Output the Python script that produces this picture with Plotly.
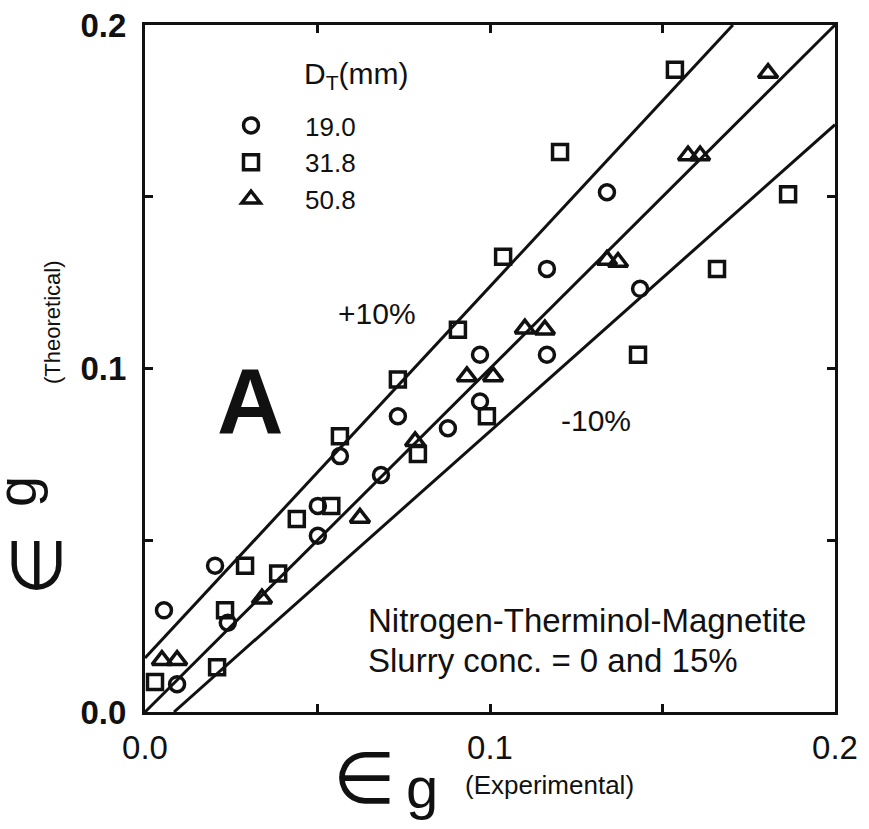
import plotly.graph_objects as go

# Measured gas holdup, experimental (x) vs theoretical (y), by column diameter
circle_x = [0.0055, 0.0203, 0.0240, 0.0093, 0.0565, 0.0684, 0.0501, 0.0501,
            0.0733, 0.0971, 0.0971, 0.0878, 0.1165, 0.1165, 0.1435, 0.1339]
circle_y = [0.0296, 0.0426, 0.0260, 0.0081, 0.0745, 0.0690, 0.0600, 0.0513,
            0.0861, 0.1040, 0.0904, 0.0826, 0.1290, 0.1040, 0.1232, 0.1513]

square_x = [0.0029, 0.0209, 0.0232, 0.0290, 0.0386, 0.0440, 0.0540, 0.0565,
            0.0733, 0.0907, 0.0991, 0.0791, 0.1038, 0.1203, 0.1536, 0.1429,
            0.1658, 0.1864]
square_y = [0.0087, 0.0130, 0.0296, 0.0426, 0.0403, 0.0562, 0.0600, 0.0803,
            0.0968, 0.1113, 0.0861, 0.0751, 0.1325, 0.1630, 0.1870, 0.1040,
            0.1290, 0.1507]

triangle_x = [0.0049, 0.0093, 0.0339, 0.0623, 0.0783, 0.0933, 0.1009, 0.1101,
              0.1159, 0.1339, 0.1371, 0.1574, 0.1609, 0.1806]
triangle_y = [0.0151, 0.0151, 0.0330, 0.0565, 0.0788, 0.0977, 0.0977, 0.1116,
              0.1113, 0.1316, 0.1310, 0.1620, 0.1620, 0.1860]

series_names = ["19.0", "31.8", "50.8"]

# Parity line and the +/-10 % bands
parity_x = [0.0, 0.2]
parity_y = [0.0, 0.2]
upper_x = [0.0, 0.1704]
upper_y = [0.0157, 0.2]
lower_x = [0.0084, 0.2]
lower_y = [0.0, 0.171]

W, H = 869, 829
L, R, T, B = 145, 34, 25, 117
PW, PH = W - L - R, H - T - B


def px(xp):
    return (xp - L) / PW


def py(yp):
    return (H - B - yp) / PH


FONT = "Liberation Sans, Arial, Helvetica, sans-serif"
INK = "#111111"

fig = go.Figure()

for lx, ly in [(parity_x, parity_y), (upper_x, upper_y), (lower_x, lower_y)]:
    fig.add_trace(go.Scatter(x=lx, y=ly, mode="lines", showlegend=False,
                             line=dict(color=INK, width=3), hoverinfo="skip"))

for name, sx, sy, sym, size in [
    (series_names[0], circle_x, circle_y, "circle-open", 15),
    (series_names[1], square_x, square_y, "square-open", 15),
    (series_names[2], triangle_x, triangle_y, "triangle-up-open", 17),
]:
    fig.add_trace(go.Scatter(
        x=sx, y=sy, mode="markers", name=name,
        marker=dict(symbol=sym, size=size, color=INK,
                    line=dict(color=INK, width=3.5)),
    ))

axis_common = dict(
    range=[0, 0.2], tick0=0, dtick=0.1, tickformat=".1f",
    ticks="inside", ticklen=8, tickwidth=2.5, tickcolor=INK,
    minor=dict(dtick=0.05, ticks="inside", ticklen=8, tickwidth=2.5, tickcolor=INK),
    showline=True, linewidth=3, linecolor=INK, mirror="ticks",
    showgrid=False, zeroline=False,
)

fig.update_layout(
    width=W, height=H,
    margin=dict(l=L, r=R, t=T, b=B, autoexpand=False),
    paper_bgcolor="white", plot_bgcolor="white",
    font=dict(family=FONT, color=INK),
    xaxis=dict(**axis_common, tickfont=dict(size=33, family=FONT), ticklabelstandoff=4),
    yaxis=dict(**axis_common, tickfont=dict(size=33, family=FONT, weight="bold"),
               ticklabelstandoff=9),
    legend=dict(x=px(197), y=py(102), xanchor="left", yanchor="top",
                bgcolor="rgba(0,0,0,0)", font=dict(size=26, family=FONT),
                itemwidth=98, tracegroupgap=0),
)

annotations = [
    dict(text="D<sub>T</sub>(mm)", x=px(302), y=py(75), xanchor="left", font=dict(size=30)),
    dict(text="A", x=px(250), y=py(401), font=dict(size=92, weight="bold")),
    dict(text="+10%", x=px(377), y=py(313), font=dict(size=30)),
    dict(text="-10%", x=px(596), y=py(420), font=dict(size=30)),
    dict(text="Nitrogen-Therminol-Magnetite", x=px(366), y=py(620), xanchor="left",
         font=dict(size=33)),
    dict(text="Slurry conc. = 0 and 15%", x=px(366), y=py(660), xanchor="left",
         font=dict(size=33)),
    # x axis title
    dict(text="∈", x=px(364), y=py(778), font=dict(size=72, family="DejaVu Sans")),
    dict(text="g", x=px(422), y=py(787), font=dict(size=58)),
    dict(text="(Experimental)", x=px(549), y=py(785), font=dict(size=26)),
    # y axis title
    dict(text="∈", x=px(37), y=py(565), textangle=-90, height=62,
         font=dict(size=70, family="DejaVu Sans")),
    dict(text="g", x=px(16), y=py(492), textangle=-90, font=dict(size=56)),
    dict(text="(Theoretical)", x=px(52), y=py(323), textangle=-90, font=dict(size=22)),
]
for a in annotations:
    a.setdefault("xref", "paper")
    a.setdefault("yref", "paper")
    a.setdefault("xanchor", "center")
    a.setdefault("yanchor", "middle")
    a.setdefault("showarrow", False)
    a["font"].setdefault("family", FONT)
    a["font"].setdefault("color", INK)
fig.update_layout(annotations=annotations)

fig.write_html("out.html")
